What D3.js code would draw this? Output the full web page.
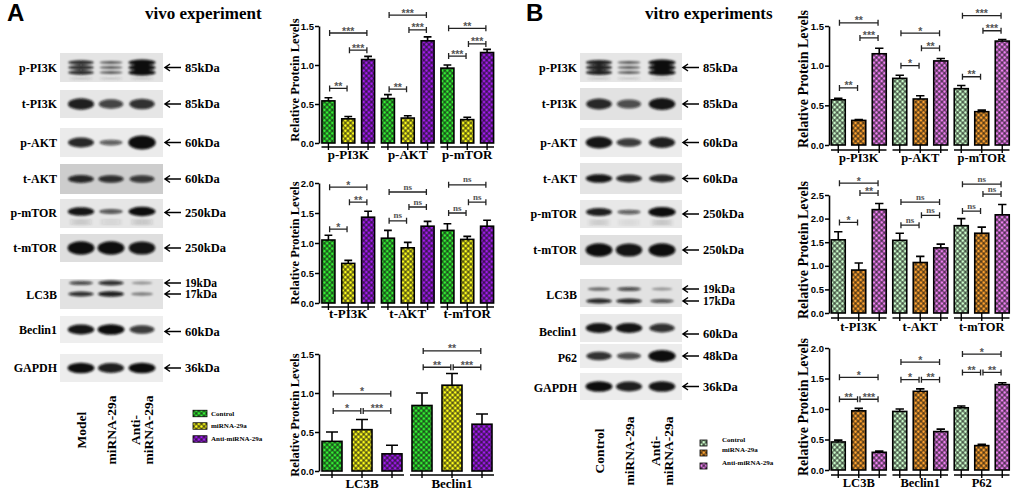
<!DOCTYPE html>
<html><head><meta charset="utf-8">
<script src="https://cdn.jsdelivr.net/npm/d3@7"></script>
<style>body{margin:0;background:#fff}svg{display:block}</style>
</head><body>
<svg id="c" width="1020" height="494"></svg>
<script>
// ---------------- DATA ----------------
const groups = ['Control','miRNA-29a','Anti-miRNA-29a'];
const laneLabelsA = [['Model'],['miRNA-29a'],['Anti-','miRNA-29a']];
const laneLabelsB = [['Control'],['miRNA-29a'],['Anti-','miRNA-29a']];

// blot rows (name, marker sizes, band intensity per lane)
const blotNamesA = ['p-PI3K','t-PI3K','p-AKT','t-AKT','p-mTOR','t-mTOR','LC3B','Beclin1','GAPDH'];
const blotKdaA   = [['85kDa'],['85kDa'],['60kDa'],['60kDa'],['250kDa'],['250kDa'],['19kDa','17kDa'],['60kDa'],['36kDa']];
const bandsA = [
  [[0.8,0.5,1.0]],
  [[0.85,0.65,0.75]],
  [[0.8,0.5,1.0]],
  [[0.8,0.75,0.7]],
  [[0.9,0.55,0.95]],
  [[0.95,0.95,0.9]],
  [[0.6,0.75,0.2],[0.75,0.85,0.3]],
  [[0.9,0.95,0.7]],
  [[0.95,0.85,0.95]]
];
const blotNamesB = ['p-PI3K','t-PI3K','p-AKT','t-AKT','p-mTOR','t-mTOR','LC3B','Beclin1','P62','GAPDH'];
const blotKdaB   = [['85kDa'],['85kDa'],['60kDa'],['60kDa'],['250kDa'],['250kDa'],['19kDa','17kDa'],['60kDa'],['48kDa'],['36kDa']];
const bandsB = [
  [[0.85,0.5,1.0]],
  [[0.8,0.6,0.9]],
  [[0.9,0.7,0.85]],
  [[0.9,0.8,0.8]],
  [[0.85,0.5,1.0]],
  [[0.95,0.9,0.95]],
  [[0.4,0.6,0.2],[0.8,0.8,0.55]],
  [[0.9,0.9,0.75]],
  [[0.75,0.6,1.0]],
  [[0.95,0.85,0.9]]
];

// bar charts: categories, means, SEM, significance [label, barI, barJ, yValue]
const catsA1 = ['p-PI3K','p-AKT','p-mTOR'];
const meanA1 = [[0.54,0.31,1.07],[0.57,0.32,1.31],[0.96,0.30,1.16]];
const errA1  = [[0.04,0.03,0.04],[0.05,0.03,0.05],[0.04,0.03,0.04]];
const sigA1  = [[['**',0,1,0.70],['***',1,2,1.19],['***',0,2,1.41]],
                [['**',0,1,0.69],['***',1,2,1.45],['***',0,2,1.64]],
                [['***',0,1,1.115],['***',1,2,1.27],['**',0,2,1.47]]];
const ticksA1 = [0,0.5,1.0,1.5];

const catsA2 = ['t-PI3K','t-AKT','t-mTOR'];
const meanA2 = [[1.05,0.66,1.43],[1.08,0.92,1.28],[1.21,1.06,1.28]];
const errA2  = [[0.08,0.05,0.10],[0.13,0.09,0.08],[0.11,0.05,0.10]];
const sigA2  = [[['*',0,1,1.23],['**',1,2,1.68],['*',0,2,1.93]],
                [['ns',0,1,1.37],['ns',1,2,1.60],['ns',0,2,1.85]],
                [['ns',0,1,1.50],['ns',1,2,1.68],['ns',0,2,1.97]]];
const ticksA2 = [0,0.5,1.0,1.5,2.0];

const catsA3 = ['LC3B','Beclin1'];
const meanA3 = [[0.38,0.53,0.22],[0.84,1.10,0.60]];
const errA3  = [[0.12,0.13,0.11],[0.16,0.15,0.13]];
const sigA3  = [[['*',0,1,0.77],['***',1,2,0.77],['*',0,2,0.99]],
                [['**',0,1,1.33],['***',1,2,1.33],['**',0,2,1.54]]];
const ticksA3 = [0,0.5,1.0,1.5];

const catsB1 = ['p-PI3K','p-AKT','p-mTOR'];
const meanB1 = [[0.57,0.31,1.15],[0.84,0.58,1.06],[0.71,0.42,1.31]];
const errB1  = [[0.02,0.01,0.07],[0.04,0.04,0.03],[0.04,0.02,0.02]];
const sigB1  = [[['**',0,1,0.72],['***',1,2,1.35],['**',0,2,1.54]],
                [['*',0,1,1.00],['**',1,2,1.22],['*',0,2,1.41]],
                [['**',0,1,0.86],['***',1,2,1.44],['***',0,2,1.63]]];
const ticksB1 = [0,0.5,1.0,1.5];

const catsB2 = ['t-PI3K','t-AKT','t-mTOR'];
const meanB2 = [[1.55,0.91,2.19],[1.54,1.07,1.38],[1.85,1.69,2.08]];
const errB2  = [[0.17,0.15,0.13],[0.15,0.13,0.08],[0.15,0.13,0.22]];
const sigB2  = [[['*',0,1,1.92],['**',1,2,2.54],['*',0,2,2.75]],
                [['ns',0,1,1.86],['ns',1,2,2.07],['ns',0,2,2.35]],
                [['ns',0,1,2.16],['ns',1,2,2.52],['ns',0,2,2.73]]];
const ticksB2 = [0,0.5,1.0,1.5,2.0,2.5];

const catsB3 = ['LC3B','Beclin1','P62'];
const meanB3 = [[0.46,0.97,0.29],[0.96,1.29,0.63],[1.02,0.40,1.40]];
const errB3  = [[0.03,0.04,0.02],[0.04,0.04,0.04],[0.03,0.02,0.03]];
const sigB3  = [[['**',0,1,1.16],['***',1,2,1.16],['*',0,2,1.52]],
                [['*',0,1,1.48],['**',1,2,1.48],['*',0,2,1.77]],
                [['**',0,1,1.60],['**',1,2,1.60],['*',0,2,1.90]]];
const ticksB3 = [0,0.5,1.0,1.5,2.0];

// ---------------- STYLE / LAYOUT ----------------
const colorsA = ['#33f033','#ffff1a','#a31af0'];
const colorsB = ['#ccffcc','#ffa22e','#f080f4'];
const SERIF = "'Liberation Serif','Times New Roman',serif";
const SANS = "'Liberation Sans',Arial,sans-serif";

const svg = d3.select('#c');
const defs = svg.append('defs');
defs.append('filter').attr('id','blur').attr('x','-50%').attr('y','-100%').attr('width','200%').attr('height','300%')
  .append('feGaussianBlur').attr('stdDeviation',1.1);
function makePattern(id,color){
  const s=3.7;
  const p = defs.append('pattern').attr('id',id).attr('patternUnits','userSpaceOnUse')
    .attr('width',s).attr('height',s).attr('patternTransform','rotate(45)');
  p.append('rect').attr('width',s).attr('height',s).attr('fill',color);
  p.append('path').attr('d',`M0,${s/2}H${s}M${s/2},0V${s}`).attr('stroke','#111').attr('stroke-width',0.85);
}
colorsA.forEach((c,i)=>makePattern('pa'+i,c));
colorsB.forEach((c,i)=>makePattern('pb'+i,c));

// ---------- panel letters & titles ----------
svg.append('text').attr('x',7).attr('y',21).attr('font-family',SANS).attr('font-weight','bold').attr('font-size',24).text('A');
svg.append('text').attr('x',526).attr('y',21).attr('font-family',SANS).attr('font-weight','bold').attr('font-size',24).text('B');
svg.append('text').attr('x',145).attr('y',19).attr('font-family',SERIF).attr('font-weight','bold').attr('font-size',17).text('vivo experiment');
svg.append('text').attr('x',645).attr('y',19).attr('font-family',SERIF).attr('font-weight','bold').attr('font-size',17).text('vitro experiments');

// ---------- blots ----------
const blotLayoutA = {
  x0:60, x1:163, lanes:[81,111,142], rx:13,
  rows:[[53,82],[90,118],[128,157],[164,194],[199,228],[234,262],[279,309],[316,343],[354,382]],
  bg:['#e4e4e4','#e6e6e6','#ebebeb','#cdcdcd','#e6e6e6','#dedede','#e2e2e2','#eeeeee','#ededed'],
  arrowX:165, textX:185, labelDy:[0,0,0,0,-1,0,1,0,0],
  arrowDy:[[0],[0],[0],[0],[-1],[0],[-11,0],[2],[0]]
};
const blotLayoutB = {
  x0:580, x1:682, lanes:[599,629,662], rx:13,
  rows:[[53,82],[88,120],[128,157],[163,194],[200,228],[235,265],[279,307],[314,342],[344,368],[373,400]],
  bg:['#e6e6e6','#e2e2e2','#ececec','#e4e4e4','#e8e8e8','#e0e0e0','#e2e2e2','#eaeaea','#ececec','#ececec'],
  arrowX:683, textX:703, labelDy:[0,0,0,0,0,0,2,4,2,1],
  arrowDy:[[0],[0],[0],[0],[0],[0],[-4,8],[6],[0],[0]]
};
const bandShape = {
  'p-PI3K':{dy:[-5,0,5], ry:[1.0,3.0], sub:true},
  't-PI3K':{dy:[0], ry:[3.5,6.5]},
  'p-AKT':{dy:[0], ry:[1.5,7]},
  't-AKT':{dy:[0], ry:[3,4.5]},
  'p-mTOR':{dy:[-2], ry:[1.5,5], trail:true},
  't-mTOR':{dy:[0], ry:[5,7]},
  'LC3B':{dy:[-11,0], ry:[1.5,3.2]},
  'Beclin1':{dy:[0], ry:[3,5.5]},
  'P62':{dy:[0], ry:[2,6]},
  'GAPDH':{dy:[0], ry:[4,5.5]}
};

function drawBlots(L, names, kdas, bands, laneLabels, laneY, lcDy){
  const g = svg.append('g');
  names.forEach((name,ri)=>{
    const [t,b] = L.rows[ri];
    const cy = (t+b)/2;
    g.append('rect').attr('x',L.x0).attr('y',t).attr('width',L.x1-L.x0).attr('height',b-t).attr('fill',L.bg[ri]);
    const sh = bandShape[name];
    const bg = g.append('g').attr('filter','url(#blur)');
    const layers = name==='LC3B' ? lcDy.map((d,k)=>({dy:d, vals:bands[ri][k]}))
                                 : sh.dy.map(d=>({dy:d, vals:bands[ri][0]}));
    layers.forEach(layer=>{
      layer.vals.forEach((v,li)=>{
        const ry = sh.ry[0]+(sh.ry[1]-sh.ry[0])*v*v;
        bg.append('ellipse').attr('cx',L.lanes[li]).attr('cy',cy+layer.dy)
          .attr('rx',L.rx*(0.75+0.3*v)).attr('ry',ry)
          .attr('fill','#0b0b0b').attr('opacity',Math.min(1,0.2+0.85*v));
      });
    });
    if(sh.trail){
      bands[ri][0].forEach((v,li)=>{
        [7,10].forEach(d=>bg.append('ellipse').attr('cx',L.lanes[li]).attr('cy',cy+d)
          .attr('rx',L.rx*0.9).attr('ry',0.8).attr('fill','#333').attr('opacity',0.35*v));
      });
    }
    if(sh.sub){
      bands[ri][0].forEach((v,li)=>bg.append('ellipse').attr('cx',L.lanes[li]).attr('cy',cy+11)
        .attr('rx',L.rx*0.9).attr('ry',0.8).attr('fill','#444').attr('opacity',0.3));
    }
    g.append('text').attr('x',L.x0-3).attr('y',cy+L.labelDy[ri]).attr('dy','0.35em')
      .attr('text-anchor','end').attr('font-family',SERIF).attr('font-weight','bold').attr('font-size',12).text(name);
    kdas[ri].forEach((k,ki)=>{
      const ay = cy + L.arrowDy[ri][ki];
      g.append('path').attr('d',`M${L.arrowX},${ay}H${L.arrowX+16}M${L.arrowX+5},${ay-3.5}L${L.arrowX},${ay}L${L.arrowX+5},${ay+3.5}`)
        .attr('fill','none').attr('stroke','#000').attr('stroke-width',1.5);
      g.append('text').attr('x',L.textX).attr('y',ay).attr('dy','0.35em')
        .attr('font-family',SERIF).attr('font-weight','bold').attr('font-size',kdas[ri].length>1?11.5:12.5).text(k);
    });
  });
  laneLabels.forEach((lines,li)=>{
    lines.forEach((ln,k)=>{
      const x = L.lanes[li] + 4.5 + (lines.length>1 ? (k-0.5)*13 : 0);
      g.append('text').attr('transform',`translate(${x},${laneY}) rotate(-90)`)
        .attr('text-anchor','middle').attr('font-family',SERIF).attr('font-weight','bold').attr('font-size',13.5).text(ln);
    });
  });
}
drawBlots(blotLayoutA, blotNamesA, blotKdaA, bandsA, laneLabelsA, 430, [-11,0]);
drawBlots(blotLayoutB, blotNamesB, blotKdaB, bandsB, laneLabelsB, 451, [-4,8]);

// ---------- legends ----------
function drawLegend(x,ys,sw,sh,textX,prefix,textDy){
  const g = svg.append('g');
  groups.forEach((name,i)=>{
    g.append('rect').attr('x',x).attr('y',ys[i]-sh/2).attr('width',sw).attr('height',sh)
      .attr('fill',`url(#${prefix}${i})`).attr('stroke','#000').attr('stroke-width',0.8);
    g.append('text').attr('x',textX).attr('y',ys[i]+textDy).attr('dy','0.35em')
      .attr('font-family',SERIF).attr('font-weight','bold').attr('font-size',7).text(name);
  });
}
drawLegend(193,[413.5,426,439],14,6.5,211,'pa',0);
drawLegend(700,[443,453,466],7,6,722,'pb',-3);

// ---------- bar charts ----------
function drawChart(cfg, cats, means, errs, sigs, ticks, prefix){
  const g = svg.append('g');
  const y = d3.scaleLinear().domain([0, ticks[ticks.length-1]]).range([cfg.y0, cfg.y1]);
  const xg = d3.scaleBand().domain(cats).range(cfg.xr);
  const xi = d3.scalePoint().domain(d3.range(3)).range([0, xg.bandwidth()]).padding(0.5);
  const bx = (c,i)=> xg(c)+xi(i);
  const ax = d3.axisLeft(y).tickValues(ticks).tickFormat(d3.format('.1f')).tickSize(4).tickSizeOuter(0);
  const ag = g.append('g').attr('transform',`translate(${cfg.ax},0)`).call(ax);
  ag.select('.domain').attr('stroke','#000').attr('stroke-width',1.6);
  ag.selectAll('.tick line').attr('stroke','#000').attr('stroke-width',1.5);
  ag.selectAll('.tick text').attr('font-family',SANS).attr('font-weight','bold').attr('font-size',9.5).attr('fill','#000').attr('x',-5);
  g.append('text').attr('transform',`translate(${cfg.titleX},${cfg.titleY}) rotate(-90)`)
    .attr('text-anchor','middle').attr('font-family',SERIF).attr('font-weight','bold').attr('font-size',cfg.titleSize)
    .text('Relative Protein Levels');
  cats.forEach((c,ci)=>{
    means[ci].forEach((m,i)=>{
      const cx = bx(c,i), top = y(m+errs[ci][i]);
      const cw = cfg.bw*0.3;
      g.append('path').attr('d',`M${cx},${y(m)}V${top}M${cx-cw},${top}H${cx+cw}`)
        .attr('stroke','#000').attr('stroke-width',1.6).attr('fill','none');
    });
  });
  cats.forEach((c,ci)=>{
    g.selectAll(null).data(means[ci]).enter().append('rect')
      .attr('x',(d,i)=>bx(c,i)-cfg.bw/2).attr('width',cfg.bw)
      .attr('y',d=>y(d)).attr('height',d=>cfg.y0-y(d))
      .attr('fill',(d,i)=>`url(#${prefix}${i})`).attr('stroke','#000').attr('stroke-width',1.6);
  });
  cats.forEach((c,ci)=>{
    const gx0 = xg(c), gx1 = xg(c)+xg.bandwidth();
    const ly = cfg.y0+cfg.segDy;
    g.append('line').attr('x1',gx0+3).attr('x2',gx1-3).attr('y1',ly).attr('y2',ly).attr('stroke','#000').attr('stroke-width',1.5);
    d3.range(3).forEach(i=>g.append('line').attr('x1',bx(c,i)).attr('x2',bx(c,i)).attr('y1',cfg.y0).attr('y2',ly+3)
      .attr('stroke','#000').attr('stroke-width',1.4));
    g.append('text').attr('x',(gx0+gx1)/2).attr('y',cfg.y0+cfg.labelDy).attr('text-anchor','middle')
      .attr('font-family',SERIF).attr('font-weight','bold').attr('font-size',cfg.labelSize).text(c);
  });
  cats.forEach((c,ci)=>{
    sigs[ci].forEach(([lab,i,j,v])=>{
      const x1 = bx(c,i)+1.2, x2 = bx(c,j)-1.2, yy = y(v);
      g.append('path').attr('d',`M${x1},${yy-3}V${yy+3}M${x1},${yy}H${x2}M${x2},${yy-3}V${yy+3}`)
        .attr('stroke','#222').attr('stroke-width',1.3).attr('fill','none');
      const isNs = lab==='ns';
      g.append('text').attr('x',(x1+x2)/2).attr('y',isNs ? yy-2.5 : yy+1.5).attr('text-anchor','middle')
        .attr('font-family',isNs?SERIF:SANS).attr('font-weight','bold').attr('font-size',isNs?9:10.5)
        .attr('fill','#555').text(lab);
    });
  });
}
const cA = {titleSize:12.5, titleX:299, labelSize:13, bw:13, segDy:4, labelDy:16};
drawChart(Object.assign({},cA,{ax:319, xr:[318.5,497], y0:143, y1:26, titleY:80}), catsA1, meanA1, errA1, sigA1, ticksA1, 'pa');
drawChart(Object.assign({},cA,{ax:319, xr:[318.5,497], y0:303, y1:183, titleY:243, labelDy:15}), catsA2, meanA2, errA2, sigA2, ticksA2, 'pa');
drawChart(Object.assign({},cA,{ax:319, xr:[317,497], y0:471, y1:354, titleY:415, bw:20, labelDy:17}), catsA3, meanA3, errA3, sigA3, ticksA3, 'pa');
const cB = {titleSize:14, titleX:808, labelSize:12.5, bw:14, segDy:5, labelDy:17};
drawChart(Object.assign({},cB,{ax:829, xr:[828,1012.5], y0:145, y1:26, titleY:79}), catsB1, meanB1, errB1, sigB1, ticksB1, 'pb');
drawChart(Object.assign({},cB,{ax:829, xr:[828,1012.5], y0:313, y1:195, titleY:250, labelDy:18}), catsB2, meanB2, errB2, sigB2, ticksB2, 'pb');
drawChart(Object.assign({},cB,{ax:829, xr:[828,1012.5], y0:470, y1:348, titleY:407}), catsB3, meanB3, errB3, sigB3, ticksB3, 'pb');
</script>
</body></html>
